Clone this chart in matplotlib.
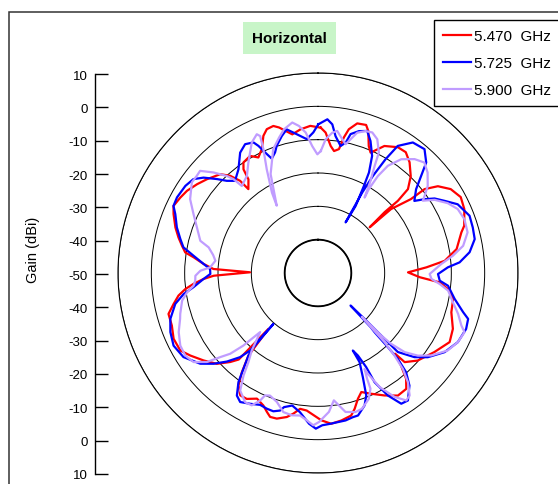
import numpy as np
import matplotlib
matplotlib.use("Agg")
import matplotlib.pyplot as plt
from matplotlib.patches import Rectangle

plt.rcParams['font.family'] = ['Liberation Sans', 'DejaVu Sans']

# angle (deg, clockwise from top), gain (dBi)
red = [(1.1, -6.4), (3.1, -7.8), (5.7, -11.7), (7.5, -13.1), (9.6, -12.3), (10.8, -8.6), (12.1, -5.9),
       (14.7, -3.6), (18.0, -3.3), (19.5, -4.8), (21.8, -9.0), (23.6, -10.6), (27.6, -7.0), (32.4, -5.3),
       (36.0, -5.2), (39.6, -6.9), (43.8, -9.8), (47.0, -13.1), (47.9, -17.7), (47.6, -22.9), (48.5, -29.3),
       (48.8, -20.9), (51.5, -14.4), (51.8, -9.3), (54.1, -5.6), (57.7, -2.9), (62.0, -1.5), (66.4, -2.1),
       (72.1, -3.9), (74.2, -5.3), (80.2, -7.8), (84.5, -11.8), (87.0, -17.4), (89.6, -23.0), (92.4, -19.4),
       (94.4, -13.4), (97.6, -10.1), (100.9, -8.7), (106.4, -8.3), (112.5, -6.2), (117.7, -5.4), (124.2, -7.8),
       (131.3, -10.2), (135.8, -12.7), (136.3, -16.5), (138.1, -12.7), (140.2, -8.7), (142.7, -6.3),
       (146.9, -6.1), (151.5, -8.2), (156.2, -10.4), (160.0, -12.0), (162.4, -10.4), (164.9, -7.8),
       (166.9, -6.1), (171.0, -5.2), (175.0, -4.6), (178.7, -5.8), (184.7, -8.6), (187.5, -8.9), (189.9, -7.2),
       (192.2, -5.8), (195.8, -4.6), (198.4, -4.5), (200.2, -5.6), (202.4, -7.0), (205.9, -8.1), (209.5, -6.6),
       (212.4, -6.5), (215.3, -8.7), (217.5, -12.5), (220.1, -17.6), (221.6, -27.6), (222.5, -14.8),
       (224.6, -12.5), (228.1, -9.2), (232.6, -6.8), (237.1, -4.4), (240.6, -2.6), (245.5, -2.4), (250.2, -3.4),
       (254.7, -3.5), (257.9, -5.7), (260.8, -7.6), (263.1, -9.9), (265.0, -12.5), (267.0, -15.6),
       (268.5, -18.7), (270.6, -29.6), (272.2, -18.6), (274.5, -15.6), (277.2, -12.4), (278.8, -9.7),
       (281.3, -8.4), (284.3, -6.8), (287.7, -5.1), (292.2, -3.2), (294.9, -2.2), (298.7, -2.9), (302.1, -3.6),
       (306.3, -5.0), (310.2, -6.4), (315.3, -8.3), (317.9, -10.7), (319.8, -13.8), (320.3, -17.3),
       (323.4, -15.0), (324.3, -11.7), (326.0, -10.0), (329.9, -9.4), (332.7, -11.0), (335.6, -9.2),
       (338.3, -5.7), (340.4, -4.2), (343.1, -3.9), (345.0, -4.8), (349.5, -7.7), (353.0, -6.6), (357.0, -5.8)]

blue = [(0.1, -5.4), (3.5, -3.8), (5.5, -5.2), (7.3, -8.6), (10.1, -11.3), (12.0, -10.0), (13.2, -7.2),
        (16.1, -5.7), (19.1, -4.9), (21.7, -7.4), (24.8, -11.3), (26.9, -16.2), (27.8, -20.5), (29.3, -26.9),
        (28.6, -32.7), (28.8, -22.4), (29.5, -16.5), (30.7, -10.3), (32.1, -5.0), (36.0, -1.6), (40.7, -1.0),
        (44.4, -3.6), (46.7, -7.5), (49.5, -11.3), (53.2, -13.9), (55.3, -11.1), (57.4, -8.5), (60.3, -6.3),
        (63.8, -3.3), (69.3, -1.4), (73.6, -1.6), (77.8, -1.9), (82.2, -4.1), (85.7, -7.4), (87.5, -11.0),
        (90.5, -14.0), (93.6, -13.4), (95.6, -10.8), (100.7, -8.3), (105.1, -4.9), (107.0, -2.9),
        (110.7, -2.5), (116.3, -3.2), (122.0, -5.2), (127.5, -8.5), (131.1, -11.6), (134.7, -16.3),
        (134.7, -21.9), (134.6, -30.4), (135.0, -36.2), (135.8, -27.3), (136.3, -25.4), (136.7, -19.4),
        (137.1, -14.8), (138.4, -10.2), (140.9, -6.5), (144.8, -3.2), (147.5, -3.5), (150.3, -7.7),
        (152.6, -13.1), (152.9, -18.3), (154.2, -22.5), (155.8, -24.5), (155.0, -20.5), (156.7, -16.0),
        (158.5, -10.5), (160.6, -7.9), (164.3, -5.6), (166.4, -5.5), (169.4, -5.0), (175.5, -4.6),
        (178.4, -4.3), (180.8, -3.3), (183.4, -4.7), (187.4, -7.9), (191.0, -9.5), (194.2, -8.5),
        (195.4, -7.2), (197.9, -6.4), (200.7, -6.5), (203.7, -6.8), (207.4, -5.8), (211.1, -4.8),
        (213.5, -5.9), (216.1, -9.5), (217.9, -13.6), (220.1, -17.6), (221.0, -20.5), (221.1, -25.1),
        (221.2, -29.7), (221.3, -23.7), (221.2, -19.1), (222.8, -15.6), (225.8, -11.9), (229.0, -8.5),
        (232.4, -5.4), (238.0, -2.4), (243.3, -1.5), (248.2, -2.3), (252.7, -3.6), (257.8, -6.2),
        (261.1, -9.2), (263.5, -12.4), (267.0, -15.6), (269.5, -17.7), (272.1, -17.6), (274.5, -15.6),
        (277.9, -12.3), (280.8, -8.9), (283.8, -7.5), (287.9, -5.5), (292.4, -3.7), (294.9, -2.2),
        (298.2, -2.0), (303.3, -2.4), (307.0, -3.2), (309.8, -5.3), (312.9, -8.6), (315.3, -11.1),
        (318.0, -12.8), (322.5, -10.8), (327.1, -7.0), (330.5, -5.6), (333.7, -6.3), (334.9, -7.9),
        (336.3, -10.5), (338.0, -13.0), (340.4, -11.6), (342.0, -9.9), (345.2, -7.5), (347.7, -5.9),
        (350.0, -7.2), (352.5, -8.5), (355.2, -9.7), (358.1, -7.8)]

purple = [(1.3, -13.4), (3.3, -9.8), (5.8, -7.7), (7.7, -7.0), (10.3, -9.2), (12.1, -10.5), (13.7, -8.7),
          (15.6, -6.3), (18.5, -5.1), (21.1, -4.8), (23.9, -6.1), (26.8, -9.5), (27.9, -13.7), (29.8, -18.5),
          (31.7, -23.4), (31.2, -20.7), (31.7, -15.8), (33.1, -11.6), (36.2, -7.7), (40.3, -5.2),
          (43.9, -4.0), (47.5, -5.4), (51.6, -8.0), (54.1, -10.5), (55.4, -11.8), (57.9, -8.7), (61.7, -5.8),
          (65.4, -3.9), (69.8, -3.2), (74.8, -3.5), (79.4, -5.7), (82.7, -9.2), (85.8, -12.9), (90.5, -16.5),
          (93.0, -15.9), (95.2, -13.3), (97.7, -10.6), (102.2, -8.6), (106.3, -6.2), (110.1, -4.2),
          (112.0, -2.6), (116.3, -3.2), (120.9, -4.7), (126.1, -8.0), (129.6, -11.1), (132.4, -14.8),
          (134.1, -19.5), (134.7, -23.3), (134.7, -27.5), (135.0, -31.4), (135.8, -26.1), (136.1, -21.2),
          (137.2, -16.2), (138.5, -11.6), (140.5, -7.6), (143.2, -4.1), (145.3, -3.5), (148.3, -6.3),
          (151.6, -11.1), (153.7, -16.3), (154.1, -18.0), (155.1, -15.0), (155.6, -11.9), (158.0, -9.3),
          (162.0, -7.2), (164.9, -6.8), (168.8, -7.5), (171.0, -9.8), (172.9, -11.5), (175.5, -8.2),
          (179.6, -5.3), (181.8, -4.3), (184.4, -5.7), (187.2, -6.9), (190.4, -6.6), (194.0, -7.0),
          (197.7, -9.4), (201.4, -10.5), (203.4, -10.0), (204.4, -8.0), (206.6, -5.6), (209.4, -5.5),
          (213.5, -7.7), (216.0, -12.0), (218.0, -16.1), (220.5, -19.4), (224.4, -25.2), (225.8, -18.8),
          (227.4, -14.2), (229.3, -11.3), (231.3, -7.3), (234.4, -4.1), (238.1, -3.1), (242.2, -3.3),
          (247.0, -4.6), (251.6, -6.4), (253.5, -6.9), (258.5, -8.4), (261.6, -10.3), (264.2, -12.5),
          (266.4, -13.1), (268.7, -13.2), (271.1, -14.7), (273.0, -17.6), (276.8, -19.0), (279.7, -18.1),
          (283.2, -16.3), (285.3, -13.4), (290.6, -11.2), (295.3, -8.7), (300.0, -5.7), (305.7, -3.4),
          (308.7, -3.4), (310.9, -3.2), (313.9, -6.5), (316.8, -10.1), (318.0, -12.1), (318.8, -15.3),
          (323.8, -13.9), (327.8, -10.8), (333.1, -6.1), (336.2, -4.5), (337.1, -5.4), (336.2, -9.4),
          (333.7, -15.3), (330.2, -22.2), (328.5, -26.3), (334.4, -17.1), (340.1, -10.5), (344.0, -7.7),
          (346.7, -5.7), (350.3, -4.2), (352.6, -5.5), (355.0, -7.7), (357.4, -11.9), (359.7, -14.4)]

series = [(red, '#ff0000', '5.470  GHz'),
          (blue, '#0000ff', '5.725  GHz'),
          (purple, '#c09cff', '5.900  GHz')]

r_min, r_max = -50, 10
rings = [-40, -30, -20, -10, 0, 10]
left_ticks = np.arange(-60, 61, 10)   # distance from centre, in dB

W, H = 558, 485
fig = plt.figure(figsize=(W / 100, H / 100), dpi=100)

# outer frame (cut off at right/bottom like the source)
fig.add_artist(Rectangle((9 / W, -0.2), 1.5, 1.2 - 13 / H, transform=fig.transFigure,
                         fill=False, ec='#333333', lw=1.1))

# polar plot
ax = fig.add_axes([118 / W, 11 / H, 400 / W, 400 / H], projection='polar')
ax.set_theta_zero_location('N')
ax.set_theta_direction(-1)
ax.set_rlim(r_min, r_max)
ax.set_rticks(rings)
ax.set_yticklabels([])
ax.set_xticks([])
ax.yaxis.grid(True, color='black', lw=0.7)
ax.spines['polar'].set_linewidth(0.8)
ax.patch.set_alpha(0)
circ = np.linspace(0, 2 * np.pi, 361)
ax.plot(circ, np.full_like(circ, rings[0]), color='black', lw=1.3)

for data, col, lab in series:
    th = np.radians([p[0] for p in data] + [data[0][0]])
    g = np.array([p[1] for p in data] + [data[0][1]])
    ax.plot(th, g, color=col, lw=1.6, label=lab)

# left gain scale
lax = fig.add_axes([95 / W, 10 / H, 0.05, 400 / H])
lax.set_ylim(-60, 60)
lax.set_yticks(left_ticks)
lax.set_yticklabels([str(abs(t) + r_min) for t in left_ticks], fontsize=9.5)
lax.set_xticks([])
for s in ['top', 'right', 'bottom']:
    lax.spines[s].set_visible(False)
lax.spines['left'].set_linewidth(1.0)
lax.tick_params(axis='y', direction='in', length=9, width=1.0, pad=5)
lax.patch.set_alpha(0)

fig.text(33 / W, 1 - 250 / H, 'Gain (dBi)', rotation=90, ha='center', va='center', fontsize=10.5)

# title box
fig.add_artist(Rectangle((243 / W, 1 - 55 / H), 93 / W, 32 / H, transform=fig.transFigure,
                         color='#c8f5c8', lw=0))
fig.text(289.5 / W, 1 - 39 / H, 'Horizontal', ha='center', va='center', fontsize=11, fontweight='bold')

leg = fig.legend(loc='upper left', bbox_to_anchor=(434 / W, 1 - 21 / H), borderaxespad=0,
                 fontsize=11, frameon=True, fancybox=False, edgecolor='black', framealpha=1,
                 handlelength=1.8, handletextpad=0.25, labelspacing=0.85, borderpad=0.6)
leg.get_frame().set_linewidth(1.0)

fig.savefig('out.png', dpi=100)
